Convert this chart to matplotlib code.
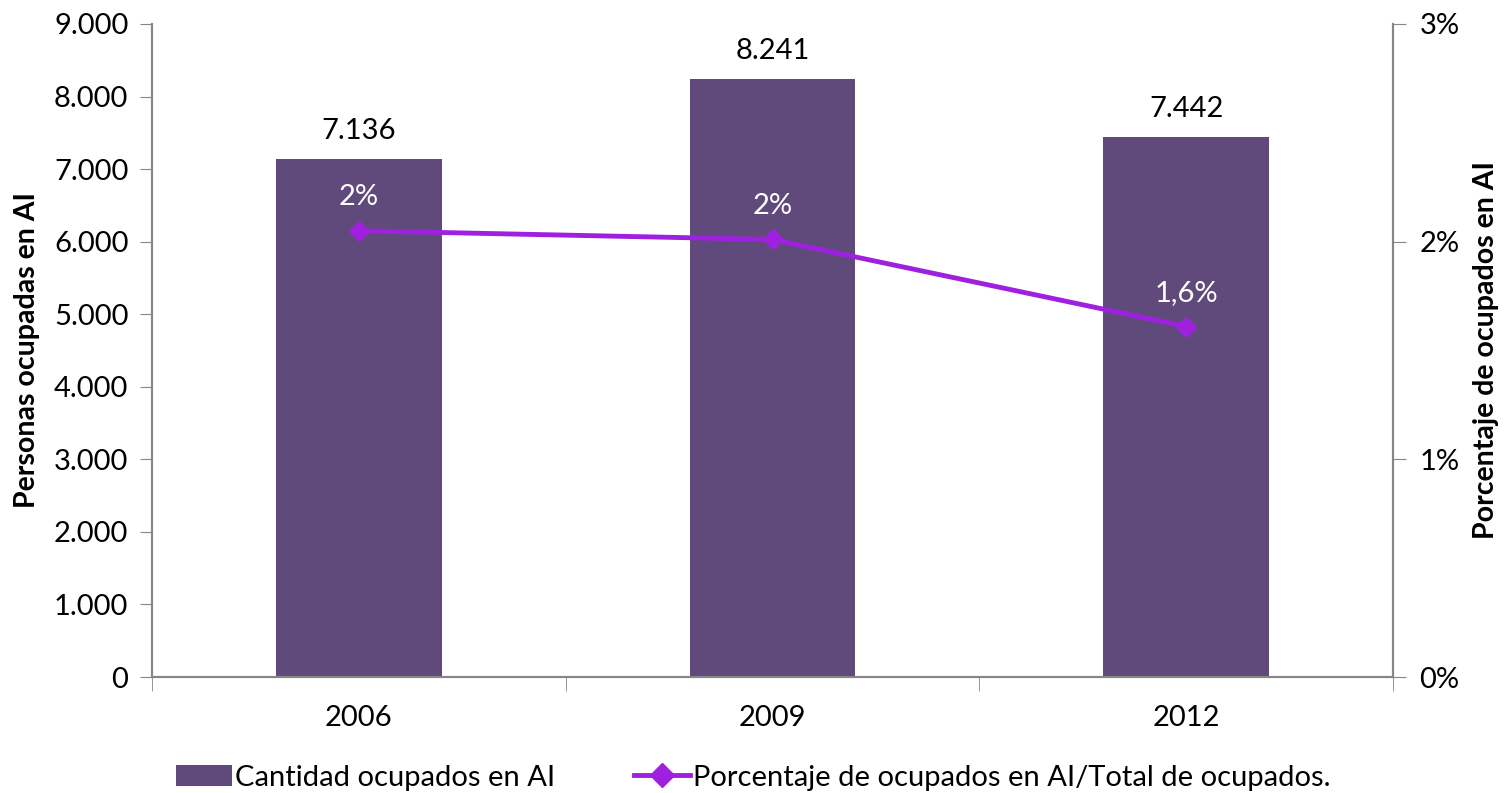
import numpy as np
import matplotlib.pyplot as plt
from matplotlib.ticker import FuncFormatter, FixedLocator

plt.rcParams['font.family'] = ['Lato', 'DejaVu Sans']

# data
years = ['2006', '2009', '2012']
ocupados = [7136, 8241, 7442]
porcentaje = [2.05, 2.01, 1.61]
pct_labels = ['2%', '2%', '1,6%']

bar_color = '#604A7B'
line_color = '#A020E0'
axis_color = '#868686'
fs = 21

fig = plt.figure(figsize=(15.07, 7.93), dpi=100)
ax = fig.add_axes([152/1507, 1 - 677/793, (1393-152)/1507, (677-24)/793])
ax2 = ax.twinx()

x = np.arange(len(years))
bars = ax.bar(x, ocupados, width=0.4, color=bar_color, label='Cantidad ocupados en AI', zorder=2)
ax.set_xlim(-0.5, 2.5)
ax.set_ylim(0, 9000)
ax.set_yticks(np.arange(0, 9001, 1000))
ax.yaxis.set_major_formatter(FuncFormatter(lambda v, p: f'{int(v):,}'.replace(',', '.')))
ax.set_xticks(x)
ax.set_xticklabels(years)
ax.xaxis.set_minor_locator(FixedLocator([-0.5, 0.5, 1.5, 2.5]))
ax.tick_params(axis='x', which='major', length=0, pad=20, labelsize=fs)
ax.tick_params(axis='x', which='minor', length=10, color=axis_color)
ax.tick_params(axis='y', length=9, color=axis_color, labelsize=fs, pad=8)

for b, v in zip(bars, ocupados):
    ax.annotate(f'{v:,}'.replace(',', '.'), (b.get_x() + b.get_width()/2, v),
                xytext=(0, 11), textcoords='offset points', ha='center', va='bottom', fontsize=fs)

line, = ax2.plot(x, porcentaje, color=line_color, lw=3.5, marker='D', ms=10,
                 label='Porcentaje de ocupados en AI/Total de ocupados.', zorder=3)
ax2.set_ylim(0, 3)
ax2.set_yticks([0, 1, 2, 3])
ax2.yaxis.set_major_formatter(FuncFormatter(lambda v, p: f'{int(v)}%'))
ax2.tick_params(axis='y', length=9, color=axis_color, labelsize=fs, pad=10)
for xi, v, lab in zip(x, porcentaje, pct_labels):
    ax2.annotate(lab, (xi, v), xytext=(0, 15), textcoords='offset points',
                 ha='center', va='bottom', fontsize=fs, color='white')

for a in (ax, ax2):
    a.spines['top'].set_visible(False)
    for s in ('left', 'right', 'bottom'):
        a.spines[s].set_color(axis_color)
        a.spines[s].set_linewidth(1.5)

ax.set_ylabel('Personas ocupadas en AI', fontsize=20.5, fontweight='bold', labelpad=10)
ax2.set_ylabel('Porcentaje de ocupados en AI', fontsize=20.5, fontweight='bold', labelpad=10)

fig.legend([bars, line], ['Cantidad ocupados en AI', 'Porcentaje de ocupados en AI/Total de ocupados.'],
           loc='lower center', bbox_to_anchor=(0.5, -0.03), ncol=2, frameon=False, fontsize=fs,
           handlelength=1.9, handletextpad=0.12, columnspacing=2.7, markerscale=1.2)

fig.savefig('out.png', dpi=100)
